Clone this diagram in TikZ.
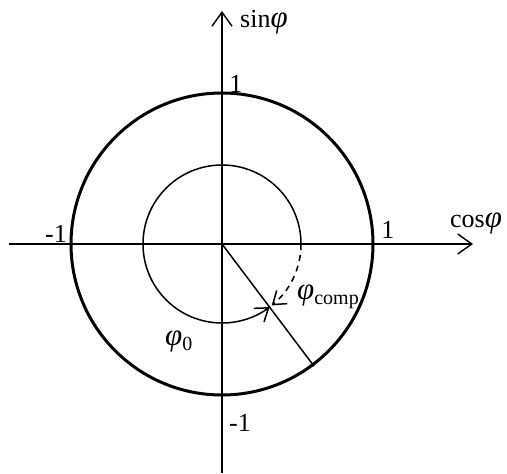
\documentclass[tikz,border=0pt]{standalone}
\usepackage{fontspec}
\setmainfont{Liberation Serif}
\usetikzlibrary{arrows.meta}
\newcommand{\phisym}{{\fontsize{31}{34}\selectfont\textit{φ}}}
\newcommand{\subtxt}[1]{\raisebox{-5pt}{\fontsize{20}{24}\selectfont #1}}
\begin{document}
\begin{tikzpicture}[x=1pt,y=1pt,
  axis/.style={line width=1.5pt, -{Straight Barb[length=14pt,width=20pt,line width=1.4pt]}},
  lbl/.style={font=\fontsize{26}{30}\selectfont, inner sep=0pt},
  arcarrow/.style={line width=1.5pt, -{Straight Barb[length=12pt,width=17pt,line width=1.5pt]}}]
\useasboundingbox (-222,-230) rectangle (285,244);
\coordinate (O) at (0,0);
\coordinate (xs) at (-213,0);
\coordinate (xe) at (251,0);
\coordinate (ys) at (0,-229);
\coordinate (ye) at (0,233);
\coordinate (R) at (-53:153);
% circles
\draw[line width=3pt] (O) circle[radius=151];
\draw[line width=1.5pt] (O) -- (R);
\draw[arcarrow] (0:79) arc[start angle=0, end angle=307, radius=79];
\draw[arcarrow, dashed, dash pattern=on 6pt off 5pt] (0:79) arc[start angle=0, end angle=-51, radius=79];
% axes
\draw[axis] (xs) -- (xe);
\draw[axis] (ys) -- (ye);
% labels
\node[lbl, anchor=base west] (sinl) at (18,216) {sin\phisym};
\node[lbl, anchor=base west] (cosl) at (228,16) {cos\phisym};
\node[lbl, anchor=base] (ytop) at (14,151) {1};
\node[lbl, anchor=base] (ybot) at (18,-188) {-1};
\node[lbl, anchor=base] (xleft) at (-166,1) {-1};
\node[lbl, anchor=base] (xright) at (166,5) {1};
\node[lbl, anchor=base west] (phi0) at (-57,-102) {\phisym\subtxt{0}};
\node[lbl, anchor=base west] (phic) at (75,-56) {\phisym\subtxt{comp}};
\end{tikzpicture}
\end{document}
